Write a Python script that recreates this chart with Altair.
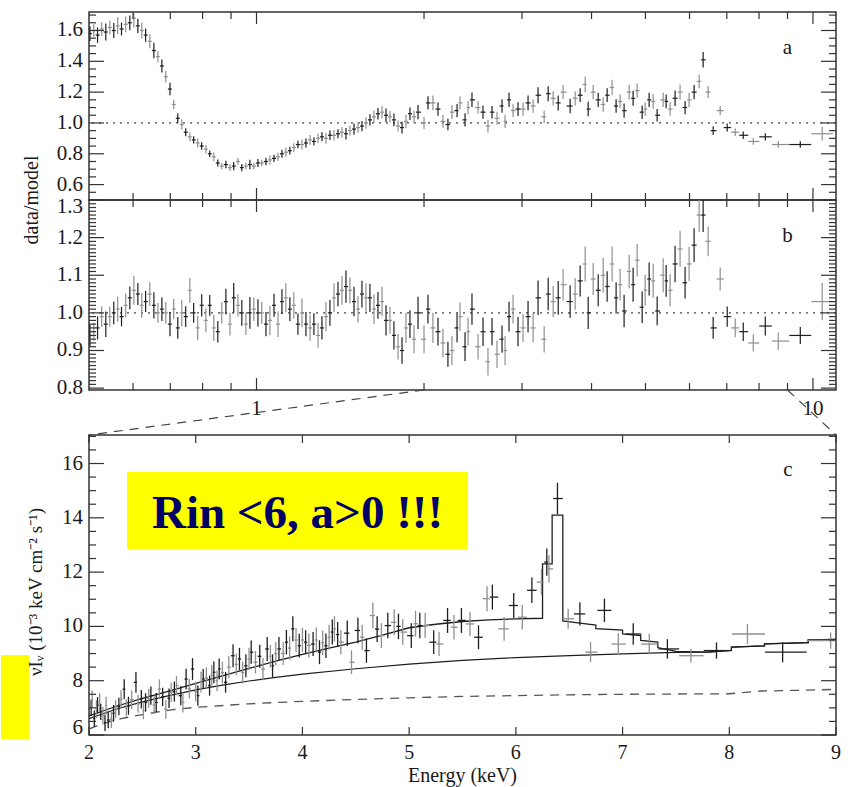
import altair as alt
import numpy as np
import pandas as pd

SERIF = "Liberation Serif"
DARK = "#1e1e1e"
LIGHT = "#8f8f8f"
TICK = "#333333"
TXT = "#1a1a1a"
TW = 1.2

# ---------------- panels a and b: data/model ratios ----------------
energy_low = [0.502, 0.510, 0.518, 0.527, 0.536, 0.545, 0.554, 0.563, 0.572, 0.582,
              0.592, 0.602, 0.612, 0.622, 0.632, 0.643, 0.654, 0.665, 0.676, 0.687,
              0.699, 0.710, 0.722, 0.734, 0.746, 0.759, 0.771, 0.784, 0.797, 0.811,
              0.824, 0.838, 0.852, 0.866, 0.881, 0.896, 0.910, 0.926, 0.941, 0.957,
              0.973, 0.989, 1.006, 1.022, 1.040, 1.057, 1.075, 1.093, 1.111, 1.129,
              1.148, 1.167, 1.187, 1.207, 1.227, 1.248, 1.268, 1.290, 1.311, 1.333,
              1.355, 1.378, 1.401, 1.424, 1.448, 1.472, 1.497, 1.522, 1.547, 1.573,
              1.599, 1.626, 1.653, 1.681, 1.709, 1.737, 1.766, 1.796, 1.826, 1.856,
              1.887, 1.919, 1.951]
energy_high = [2.000, 2.033, 2.075, 2.119, 2.163, 2.208, 2.245, 2.293, 2.321, 2.370,
               2.400, 2.439, 2.501, 2.553, 2.606, 2.650, 2.705, 2.762, 2.797, 2.843,
               2.891, 2.951, 3.013, 3.076, 3.141, 3.206, 3.288, 3.343, 3.413, 3.485,
               3.556, 3.661, 3.738, 3.816, 3.896, 3.945, 4.027, 4.112, 4.198, 4.267,
               4.355, 4.428, 4.502, 4.577, 4.674, 4.751, 4.831, 4.932, 4.994, 5.077,
               5.162, 5.248, 5.380, 5.447, 5.537, 5.652, 5.770, 5.891, 5.990, 6.115,
               6.244, 6.348, 6.481, 6.617, 6.812, 7.013, 7.249, 7.494, 7.812, 8.210,
               8.662, 9.489, 10.39]

ratio_a_low = [1.58, 1.60, 1.57, 1.61, 1.59, 1.62, 1.60, 1.63, 1.61, 1.64,
               1.65, 1.68, 1.63, 1.60, 1.57, 1.53, 1.47, 1.43, 1.37, 1.30,
               1.22, 1.12, 1.03, 0.99, 0.94, 0.91, 0.89, 0.87, 0.85, 0.83,
               0.80, 0.78, 0.74, 0.72, 0.73, 0.71, 0.72, 0.75, 0.71, 0.72,
               0.73, 0.72, 0.74, 0.74, 0.75, 0.76, 0.77, 0.78, 0.80, 0.81,
               0.82, 0.84, 0.86, 0.86, 0.87, 0.89, 0.88, 0.90, 0.91, 0.90,
               0.92, 0.92, 0.93, 0.94, 0.93, 0.95, 0.96, 0.97, 0.98, 1.00,
               1.02, 1.04, 1.06, 1.07, 1.05, 1.04, 1.02, 0.98, 0.97, 1.01,
               1.06, 1.04, 1.07]
ratio_a_high = [1.00, 1.13, 1.13, 1.09, 1.01, 0.99, 1.07, 1.08, 1.13, 1.02,
                1.10, 1.15, 1.10, 1.07, 0.98, 1.07, 1.03, 1.11, 1.01, 1.15,
                1.08, 1.09, 1.09, 1.13, 1.11, 1.18, 1.04, 1.19, 1.16, 1.13,
                1.20, 1.11, 1.16, 1.18, 1.25, 1.09, 1.20, 1.15, 1.12, 1.18,
                1.23, 1.11, 1.14, 1.08, 1.20, 1.16, 1.21, 1.07, 1.09, 1.15,
                1.14, 1.05, 1.15, 1.14, 1.09, 1.16, 1.20, 1.10, 1.15, 1.20,
                1.27, 1.41, 1.20, 0.95, 1.08, 0.97, 0.94, 0.92, 0.88, 0.91,
                0.86, 0.86, 0.93]

ratio_b_low = [0.94, 0.95, 0.96, 0.99, 0.97, 0.99, 1.00, 1.01, 0.99, 1.02,
               1.04, 1.06, 1.05, 1.02, 1.03, 1.05, 1.02, 1.00, 1.01, 1.00,
               0.97, 1.01, 0.96, 1.00, 0.99, 1.06, 1.00, 0.96, 1.02, 0.98,
               1.02, 0.96, 0.95, 1.00, 1.03, 0.97, 1.04, 1.02, 1.00, 0.97,
               1.00, 1.01, 1.00, 1.00, 0.97, 0.98, 1.02, 0.97, 1.03, 1.04,
               1.01, 1.02, 0.97, 1.00, 0.97, 0.96, 0.97, 0.94, 0.96, 0.99,
               1.00, 1.04, 1.05, 1.06, 1.07, 1.06, 1.03, 1.01, 1.05, 1.04,
               1.04, 1.01, 1.02, 1.03, 0.98, 0.98, 0.94, 0.91, 0.90, 0.96,
               0.97, 0.93, 1.00]
ratio_b_high = [0.93, 1.01, 0.96, 0.95, 0.92, 0.89, 0.90, 0.96, 0.99, 0.91,
                0.95, 1.01, 0.91, 0.95, 0.87, 0.95, 0.89, 0.93, 0.90, 0.99,
                1.01, 0.95, 0.96, 0.99, 0.96, 1.04, 0.93, 1.05, 1.03, 1.04,
                1.075, 1.03, 1.05, 1.085, 1.13, 1.00, 1.09, 1.06, 1.10, 1.07,
                1.13, 1.04, 1.075, 1.005, 1.11, 1.075, 1.14, 1.015, 1.06, 1.09,
                1.085, 1.005, 1.10, 1.085, 1.06, 1.13, 1.17, 1.08, 1.13, 1.18,
                1.26, 1.26, 1.19, 0.96, 1.09, 0.99, 0.96, 0.95, 0.92, 0.965,
                0.925, 0.94, 1.03]

frac_err = [0.030, 0.025, 0.032, 0.028, 0.035, 0.027, 0.030, 0.033, 0.026, 0.031,
            0.029, 0.036, 0.028, 0.032, 0.027, 0.030, 0.034, 0.026, 0.031, 0.029,
            0.033, 0.027, 0.030, 0.035, 0.028, 0.031, 0.026, 0.034, 0.029, 0.032,
            0.027, 0.036, 0.030, 0.028, 0.033, 0.031, 0.038, 0.029, 0.034, 0.030,
            0.042, 0.031, 0.036, 0.029, 0.033, 0.040, 0.030, 0.035, 0.032, 0.037,
            0.031, 0.034, 0.029, 0.038, 0.033, 0.036, 0.030, 0.035, 0.032, 0.039,
            0.034, 0.037, 0.031, 0.036, 0.040, 0.033, 0.038, 0.035, 0.034, 0.037,
            0.036, 0.039, 0.035, 0.038, 0.041, 0.036, 0.040, 0.037, 0.039, 0.042,
            0.038, 0.040, 0.043,
            0.040, 0.038, 0.042, 0.039, 0.041, 0.037, 0.043, 0.040, 0.038, 0.042,
            0.039, 0.041, 0.037, 0.040, 0.042, 0.038, 0.041, 0.039, 0.043, 0.040,
            0.038, 0.041, 0.039, 0.042, 0.040, 0.044, 0.038, 0.041, 0.040, 0.043,
            0.039, 0.042, 0.040, 0.038, 0.041, 0.043, 0.039, 0.040, 0.042, 0.038,
            0.041, 0.040, 0.039, 0.043, 0.040, 0.042, 0.038, 0.041, 0.039, 0.040,
            0.042, 0.038, 0.041, 0.039, 0.040, 0.043, 0.041, 0.039, 0.040, 0.038,
            0.035, 0.036, 0.033, 0.030, 0.028, 0.027, 0.026, 0.026, 0.025, 0.026,
            0.025, 0.024, 0.048]

# ---------------- panel c: unfolded spectrum ----------------
c_energy = [2.02, 2.03, 2.05, 2.07, 2.08, 2.10, 2.11, 2.13, 2.15, 2.16,
            2.18, 2.21, 2.23, 2.25, 2.28, 2.30, 2.33, 2.35, 2.37, 2.40,
            2.44, 2.46, 2.49, 2.51, 2.53, 2.56, 2.58, 2.61, 2.63, 2.66,
            2.69, 2.72, 2.75, 2.77, 2.80, 2.82, 2.86, 2.88, 2.91, 2.94,
            2.97, 3.00, 3.02, 3.05, 3.07, 3.10, 3.13, 3.15, 3.17, 3.20,
            3.22, 3.25, 3.28, 3.31, 3.35, 3.38, 3.41, 3.44, 3.47, 3.50,
            3.52, 3.56, 3.60, 3.63, 3.67, 3.70, 3.72, 3.75, 3.78, 3.82,
            3.85, 3.88, 3.91, 3.94, 3.97, 4.00, 4.03, 4.06, 4.10, 4.13,
            4.16, 4.19, 4.22, 4.25, 4.28, 4.30, 4.33, 4.36, 4.42, 4.46,
            4.52, 4.56, 4.60, 4.66, 4.70, 4.74, 4.80, 4.86, 4.90, 4.94,
            5.02, 5.06, 5.10, 5.15, 5.23, 5.28, 5.36, 5.42, 5.49, 5.57,
            5.65, 5.73, 5.78, 5.89, 5.98, 6.06, 6.15, 6.24, 6.29, 6.31,
            6.39, 6.49, 6.60, 6.70, 6.83, 6.96, 7.10, 7.25, 7.42, 7.64,
            7.88, 8.17, 8.50, 8.95]
c_flux = [7.00, 7.32, 6.60, 6.95, 7.10, 7.20, 6.85, 6.71, 6.45, 7.08,
          6.55, 6.58, 6.80, 6.95, 7.05, 7.32, 7.69, 7.00, 7.08, 7.30,
          7.94, 7.15, 7.32, 6.90, 7.20, 7.35, 7.45, 7.10, 7.20, 7.69,
          7.40, 6.95, 7.35, 7.57, 7.60, 7.82, 7.45, 7.20, 8.06, 7.70,
          8.43, 7.60, 7.45, 7.95, 8.06, 8.10, 7.82, 8.20, 8.31, 8.00,
          8.43, 8.30, 7.94, 8.50, 8.92, 8.60, 8.80, 8.30, 8.55, 8.80,
          9.05, 8.68, 8.90, 8.43, 9.17, 8.90, 8.55, 9.00, 9.17, 9.00,
          9.42, 9.20, 9.91, 9.50, 9.29, 9.50, 9.42, 9.30, 9.35, 9.50,
          9.05, 9.40, 9.29, 9.60, 9.79, 9.91, 9.70, 9.42, 9.75, 8.68,
          9.85, 9.60, 9.11, 10.40, 9.90, 9.66, 10.03, 10.15, 10.00, 9.79,
          9.66, 10.10, 10.03, 10.03, 9.42, 9.35, 10.22, 9.97, 10.22, 10.09,
          9.60, 11.02, 11.08, 9.91, 10.77, 10.34, 11.33, 11.63, 12.37, 12.12,
          14.71, 10.28, 10.46, 9.05, 10.59, 9.35, 9.72, 9.35, 9.17, 8.92,
          9.11, 9.72, 9.05, 9.48]
c_err = [0.30, 0.32, 0.30, 0.33, 0.30, 0.34, 0.30, 0.32, 0.30, 0.33,
         0.30, 0.32, 0.31, 0.33, 0.32, 0.34, 0.36, 0.32, 0.33, 0.34,
         0.38, 0.33, 0.34, 0.32, 0.34, 0.35, 0.34, 0.33, 0.35, 0.36,
         0.34, 0.35, 0.36, 0.35, 0.37, 0.36, 0.35, 0.37, 0.38, 0.36,
         0.40, 0.36, 0.37, 0.38, 0.37, 0.39, 0.37, 0.38, 0.40, 0.38,
         0.39, 0.40, 0.38, 0.41, 0.42, 0.40, 0.41, 0.40, 0.42, 0.41,
         0.43, 0.41, 0.42, 0.41, 0.44, 0.42, 0.42, 0.43, 0.44, 0.42,
         0.45, 0.43, 0.46, 0.44, 0.44, 0.45, 0.44, 0.45, 0.44, 0.46,
         0.44, 0.45, 0.45, 0.46, 0.46, 0.47, 0.46, 0.45, 0.47, 0.44,
         0.47, 0.46, 0.45, 0.48, 0.47, 0.46, 0.47, 0.48, 0.47, 0.47,
         0.46, 0.48, 0.47, 0.46, 0.44, 0.44, 0.46, 0.45, 0.46, 0.45,
         0.44, 0.46, 0.46, 0.44, 0.46, 0.45, 0.47, 0.48, 0.50, 0.50,
         0.58, 0.37, 0.43, 0.37, 0.43, 0.40, 0.40, 0.38, 0.36, 0.25,
         0.30, 0.37, 0.37, 0.30]

model_e = [2.00, 2.25, 2.50, 2.75, 3.00, 3.25, 3.50, 3.75, 4.00, 4.25,
           4.50, 4.75, 5.00, 5.25, 5.50, 5.75, 6.00, 6.25, 6.25, 6.34,
           6.34, 6.44, 6.44, 6.60, 6.75, 6.75, 7.00, 7.00, 7.17, 7.17,
           7.33, 7.33, 7.50, 7.80, 8.02, 8.02, 8.33, 8.33, 8.74, 8.74, 9.00]
model_total = [6.70, 7.05, 7.35, 7.62, 7.90, 8.18, 8.45, 8.72, 8.97, 9.20,
               9.42, 9.68, 9.95, 10.08, 10.18, 10.24, 10.28, 10.30, 12.30, 12.30,
               14.10, 14.10, 10.20, 10.12, 10.05, 9.92, 9.86, 9.72, 9.66, 9.48,
               9.42, 9.22, 9.08, 9.05, 9.12, 9.24, 9.28, 9.36, 9.40, 9.50, 9.52]
cont_e = [2.00, 2.25, 2.50, 2.75, 3.00, 3.25, 3.50, 3.75, 4.00, 4.50, 5.00, 5.50,
          6.00, 6.50, 7.00, 7.50, 7.80, 8.02, 8.02, 8.33, 8.33, 8.74, 8.74, 9.00]
cont_flux = [6.60, 6.95, 7.22, 7.45, 7.66, 7.84, 7.99, 8.12, 8.24, 8.44, 8.61, 8.75,
             8.85, 8.92, 8.99, 9.04, 9.05, 9.12, 9.24, 9.28, 9.36, 9.40, 9.50, 9.52]
dash_e = [2.00, 2.10, 2.20, 2.30, 2.40, 2.60, 2.80, 3.00, 3.50, 4.00, 4.50,
          5.00, 5.50, 6.00, 6.50, 7.00, 7.50, 8.00, 8.30, 8.70, 9.00]
dash_flux = [6.22, 6.38, 6.50, 6.60, 6.68, 6.82, 6.94, 7.02, 7.15, 7.24, 7.31,
             7.37, 7.42, 7.45, 7.48, 7.50, 7.51, 7.52, 7.62, 7.65, 7.68]

# annotation boxes (panel c data coordinates)
note_x = [2.356, 1.175]
note_x2 = [5.552, 1.438]
note_y = [15.69, 8.95]
note_y2 = [12.83, 5.85]
note_text = ["Rin <6, a>0 !!!"]
note_tx = [3.954]
note_ty = [13.63]

# axis ticks / labels / titles
ab_major_x = [1, 10]
ab_minor_x = [0.6, 0.7, 0.8, 0.9, 2, 3, 4, 5, 6, 7, 8, 9]
a_major_y = [0.6, 0.8, 1.0, 1.2, 1.4, 1.6]
b_major_y = [0.8, 0.9, 1.0, 1.1, 1.2]
b_top_label = [1.3]
c_major_x = [2, 3, 4, 5, 6, 7, 8, 9]
c_major_y = [8, 10, 12, 14, 16]
c_bottom_label = [6]
a_minor_y = [v for v in np.round(np.arange(0.55, 1.72, 0.05), 2) if v not in a_major_y]
b_minor_y = [v for v in np.round(np.arange(0.80, 1.301, 0.01), 2) if v not in b_major_y + b_top_label]
c_minor_y = [v for v in np.round(np.arange(6.5, 17.01, 0.5), 1) if v not in c_major_y + c_bottom_label]
ab_title = "data/model"
c_title_x = "Energy (keV)"
c_title_y = "\u03bdI\u1d65 (10\u207b\u00b3 keV cm\u207b\u00b2 s\u207b\u00b9)"

XMIN, XMAX = 0.5, 11.0
ZLO, ZHI = 2.0, 9.0
A_DOM = [0.5, 1.72]
B_DOM = [0.795, 1.30]
C_DOM = [6.0, 17.05]
W = 747
HA, HB, HG, HC = 188, 190, 45, 300

xlog = alt.Scale(type="log", domain=[XMIN, XMAX], nice=False)
xlin = alt.Scale(domain=[ZLO, ZHI], nice=False, zero=False)
ya = alt.Scale(domain=A_DOM, nice=False, zero=False)
yb = alt.Scale(domain=B_DOM, nice=False, zero=False)
yc = alt.Scale(domain=C_DOM, nice=False, zero=False)
shade_color = alt.Color("shade:N", scale=alt.Scale(domain=["dark", "light"], range=[DARK, LIGHT]), legend=None)


def ratio_frame(values):
    e = np.array(energy_low + energy_high)
    v = np.array(values)
    f = np.array(frac_err)
    edges = np.sqrt(e[:-1] * e[1:])
    lo = np.concatenate([[e[0] ** 2 / edges[0]], edges])
    hi = np.concatenate([edges, [e[-1] ** 2 / edges[-1]]])
    err = v * f
    shade = np.where(np.arange(len(e)) % 2 == 0, "dark", "light")
    return pd.DataFrame(dict(e=e, v=v, lo=v - err, hi=v + err, elo=lo, ehi=hi, shade=shade))


def spec_frame():
    e = np.array(c_energy)
    v = np.array(c_flux)
    s = np.array(c_err)
    edges = (e[:-1] + e[1:]) / 2
    lo = np.concatenate([[2 * e[0] - edges[0]], edges])
    hi = np.concatenate([edges, [2 * e[-1] - edges[-1]]])
    shade = np.where(np.arange(len(e)) % 2 == 0, "dark", "light")
    return pd.DataFrame(dict(e=e, v=v, lo=v - s, hi=v + s, elo=lo, ehi=hi, shade=shade))


def crosses(df, xs, ys, sw):
    base = alt.Chart(df)
    vert = base.mark_rule(strokeWidth=sw, clip=True).encode(
        x=alt.X("e:Q", scale=xs, axis=None),
        y=alt.Y("lo:Q", scale=ys, axis=None), y2="hi:Q", color=shade_color)
    horiz = base.mark_rule(strokeWidth=sw, clip=True).encode(
        x=alt.X("elo:Q", scale=xs, axis=None), x2="ehi:Q",
        y=alt.Y("v:Q", scale=ys, axis=None), color=shade_color)
    return [vert, horiz]


def xticks(vals, xs, length, H):
    df = pd.DataFrame({"t": vals})
    top = alt.Chart(df).mark_rule(color=TICK, strokeWidth=TW).encode(
        x=alt.X("t:Q", scale=xs, axis=None), y=alt.value(0), y2=alt.value(length))
    bot = alt.Chart(df).mark_rule(color=TICK, strokeWidth=TW).encode(
        x=alt.X("t:Q", scale=xs, axis=None), y=alt.value(H), y2=alt.value(H - length))
    return [top, bot]


def yticks(vals, ys, length):
    df = pd.DataFrame({"t": vals})
    left = alt.Chart(df).mark_rule(color=TICK, strokeWidth=TW).encode(
        y=alt.Y("t:Q", scale=ys, axis=None), x=alt.value(0), x2=alt.value(length))
    right = alt.Chart(df).mark_rule(color=TICK, strokeWidth=TW).encode(
        y=alt.Y("t:Q", scale=ys, axis=None), x=alt.value(W), x2=alt.value(W - length))
    return [left, right]


def ylabels(vals, ys, fmt, dy=0):
    df = pd.DataFrame({"t": vals, "s": [fmt.format(v) for v in vals]})
    return alt.Chart(df).mark_text(font=SERIF, fontSize=21, color=TXT, align="right",
                                   baseline="middle", dy=dy).encode(
        y=alt.Y("t:Q", scale=ys, axis=None), x=alt.value(-6), text="s:N")


def xlabels(vals, xs, H):
    df = pd.DataFrame({"t": vals, "s": [str(v) for v in vals]})
    return alt.Chart(df).mark_text(font=SERIF, fontSize=20, color=TXT, align="center",
                                   baseline="top").encode(
        x=alt.X("t:Q", scale=xs, axis=None), y=alt.value(H + 8), text="s:N")


def title_text(s, x, y, size, angle=0, baseline="alphabetic"):
    df = pd.DataFrame({"s": [s]})
    kw = dict(font=SERIF, fontSize=size, color=TXT, align="center", baseline=baseline)
    if angle:
        kw["angle"] = angle
    return alt.Chart(df).mark_text(**kw).encode(x=alt.value(x), y=alt.value(y), text="s:N")


def ref_line(ys):
    return alt.Chart(pd.DataFrame({"r": [1.0]})).mark_rule(
        color="#444444", strokeDash=[2, 5], strokeWidth=1.2).encode(
        y=alt.Y("r:Q", scale=ys, axis=None))


def letter(x, y, s, xs, ys):
    return alt.Chart(pd.DataFrame({"x": [x], "y": [y], "s": [s]})).mark_text(
        font=SERIF, fontSize=21, color=TXT, align="center", baseline="alphabetic").encode(
        x=alt.X("x:Q", scale=xs, axis=None), y=alt.Y("y:Q", scale=ys, axis=None), text="s:N")


# ---------------- panel a ----------------
da = ratio_frame(ratio_a_low + ratio_a_high)
panel_a = alt.layer(
    ref_line(ya),
    *crosses(da, xlog, ya, 1.2),
    *xticks(ab_major_x, xlog, 12, HA), *xticks(ab_minor_x, xlog, 7, HA),
    *yticks(a_major_y, ya, 15), *yticks(a_minor_y, ya, 7),
    ylabels(a_major_y, ya, "{:.1f}"),
    title_text(ab_title, -51, HA, 20, angle=270),
    letter(9.0, 1.447, "a", xlog, ya),
).properties(width=W, height=HA)

# ---------------- panel b ----------------
db = ratio_frame(ratio_b_low + ratio_b_high)
panel_b = alt.layer(
    ref_line(yb),
    *crosses(db, xlog, yb, 1.2),
    *xticks(ab_major_x, xlog, 12, HB), *xticks(ab_minor_x, xlog, 7, HB),
    *yticks(b_major_y + b_top_label, yb, 15), *yticks(b_minor_y, yb, 7),
    ylabels(b_major_y, yb, "{:.1f}"),
    ylabels(b_top_label, yb, "{:.1f}", dy=7),
    letter(9.0, 1.188, "b", xlog, yb),
).properties(width=W, height=HB)

# ---------------- connector between b and c ----------------
gy = alt.Scale(domain=[0, 1], nice=False, zero=False)
conn_df = pd.DataFrame({"x": [ZLO, ZHI], "x2": [XMIN, XMAX], "y": [1, 1], "y2": [0, 0]})
conn_lab = pd.DataFrame({"x": [1, 10], "y": [0.444, 0.444], "s": ["1", "10"]})
connector = alt.layer(
    alt.Chart(conn_df).mark_rule(color="#444444", strokeDash=[9, 7], strokeWidth=1.2).encode(
        x=alt.X("x:Q", scale=xlog, axis=None), x2="x2:Q",
        y=alt.Y("y:Q", scale=gy, axis=None), y2="y2:Q"),
    alt.Chart(conn_lab).mark_text(font=SERIF, fontSize=21, color=TXT, align="center",
                                  baseline="alphabetic").encode(
        x=alt.X("x:Q", scale=xlog, axis=None), y=alt.Y("y:Q", scale=gy, axis=None), text="s:N"),
).properties(width=W, height=HG, view=alt.ViewBackground(stroke="transparent"))

# ---------------- panel c ----------------
dc = spec_frame()
boxes = pd.DataFrame({"x": note_x, "x2": note_x2, "y": note_y, "y2": note_y2})
btext = pd.DataFrame({"x": note_tx, "y": note_ty, "s": note_text})
tot = pd.DataFrame({"e": model_e, "f": model_total, "o": range(len(model_e))})
con = pd.DataFrame({"e": cont_e, "f": cont_flux, "o": range(len(cont_e))})
das = pd.DataFrame({"e": dash_e, "f": dash_flux, "o": range(len(dash_e))})


def model_line(df, dash, sw, color):
    kw = dict(color=color, strokeWidth=sw, clip=True)
    if dash:
        kw["strokeDash"] = dash
    return alt.Chart(df).mark_line(**kw).encode(
        x=alt.X("e:Q", scale=xlin, axis=None), y=alt.Y("f:Q", scale=yc, axis=None), order="o:Q")


panel_c = alt.layer(
    alt.Chart(boxes).mark_rect(color="#ffff00").encode(
        x=alt.X("x:Q", scale=xlin, axis=None), x2="x2:Q",
        y=alt.Y("y:Q", scale=yc, axis=None), y2="y2:Q"),
    alt.Chart(btext).mark_text(font=SERIF, fontSize=47, fontWeight="bold", color="#000066",
                               align="center", baseline="alphabetic").encode(
        x=alt.X("x:Q", scale=xlin, axis=None), y=alt.Y("y:Q", scale=yc, axis=None), text="s:N"),
    model_line(das, [9, 7], 1.3, "#555555"),
    model_line(con, None, 1.2, DARK),
    model_line(tot, None, 1.3, DARK),
    *crosses(dc, xlin, yc, 1.3),
    *xticks(c_major_x, xlin, 8, HC),
    *yticks(c_major_y + c_bottom_label, yc, 15), *yticks(c_minor_y, yc, 7),
    ylabels(c_major_y, yc, "{:d}"),
    ylabels(c_bottom_label, yc, "{:d}", dy=-7),
    xlabels(c_major_x, xlin, HC),
    title_text(c_title_x, W / 2, HC + 31, 20, baseline="top"),
    title_text(c_title_y, -47, 157, 19, angle=270),
    letter(8.55, 15.54, "c", xlin, yc),
).properties(width=W, height=HC)

chart = alt.vconcat(panel_a, panel_b, connector, panel_c, spacing=0, bounds="flush").resolve_scale(
    x="independent", y="independent"
).properties(
    padding={"left": 0, "top": 10, "right": 10, "bottom": 3}, background="white"
).configure_view(stroke=TICK, strokeWidth=1.5)

chart.save("out.html", embed_options={"renderer": "svg", "actions": False})
